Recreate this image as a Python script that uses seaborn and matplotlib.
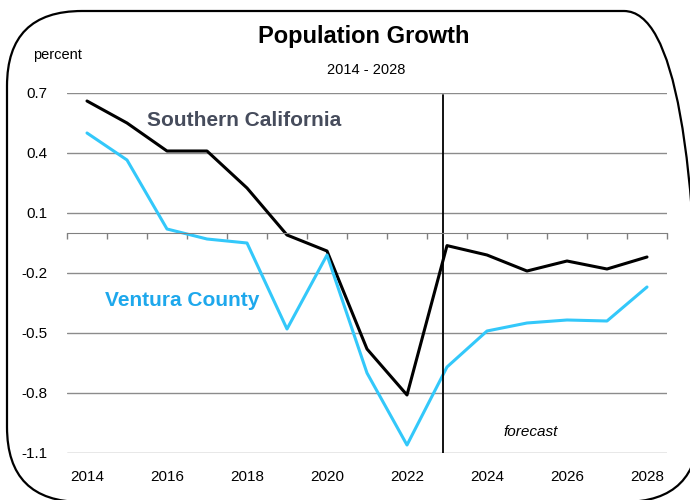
import numpy as np
import pandas as pd
import matplotlib
matplotlib.use("Agg")
import matplotlib.pyplot as plt
import seaborn as sns
from matplotlib.patches import FancyBboxPatch

# Data (percent growth)
years = list(range(2014, 2029))
socal = [0.66, 0.55, 0.41, 0.41, 0.225, -0.01, -0.09, -0.58, -0.81,
         -0.063, -0.11, -0.19, -0.14, -0.18, -0.12]
ventura = [0.50, 0.365, 0.02, -0.03, -0.05, -0.48, -0.11, -0.70, -1.06,
           -0.67, -0.49, -0.45, -0.435, -0.44, -0.27]
ytick_vals = [0.7, 0.4, 0.1, -0.2, -0.5, -0.8, -1.1]
xtick_years = list(range(2014, 2029, 2))
forecast_start = 2022.9

df = pd.DataFrame({'Year': years * 2,
                   'Growth': socal + ventura,
                   'Region': ['Southern California'] * len(years) + ['Ventura County'] * len(years)})

sns.set_style("white")
plt.rcParams['font.family'] = ['Liberation Sans', 'DejaVu Sans']
plt.rcParams['text.color'] = 'black'
plt.rcParams['xtick.color'] = 'black'
plt.rcParams['ytick.color'] = 'black'

fig = plt.figure(figsize=(6.9, 5.0), dpi=100)
ax = fig.add_axes([67 / 690, 1 - 453 / 500, 600 / 690, 360 / 500])

palette = {'Southern California': '#000000', 'Ventura County': '#33C8FA'}
sns.lineplot(data=df, x='Year', y='Growth', hue='Region', palette=palette,
             linewidth=2.2, legend=False, ax=ax)

ax.set_xlim(2013.5, 2028.5)
ax.set_ylim(-1.1, 0.7)
ax.set_yticks(ytick_vals)
ax.set_yticklabels([f'{v:.1f}' for v in ytick_vals], fontsize=11)
ax.yaxis.grid(True, color='#8c8c8c', linewidth=1)
ax.set_axisbelow(True)
ax.tick_params(axis='y', length=0, pad=14)
ax.set_xlabel('')
ax.set_ylabel('')

# zero line acts as the category axis, with marks between years
for side in ['left', 'right', 'top']:
    ax.spines[side].set_visible(False)
ax.spines['bottom'].set_position(('data', 0))
ax.spines['bottom'].set_color('#808080')
ax.set_xticks(np.arange(2013.5, 2029, 1))
ax.tick_params(axis='x', bottom=True, direction='out', length=4, width=1,
               color='#808080', labelbottom=False)

sec = ax.secondary_xaxis(0)
sec.set_xticks(xtick_years)
sec.set_xticklabels([str(y) for y in xtick_years], fontsize=11)
sec.tick_params(length=0, pad=12)
sec.spines['bottom'].set_visible(False)

ax.axvline(forecast_start, color='black', linewidth=1.3, ymax=0.995)

ax.text(2015.5, 0.56, 'Southern California', fontsize=15, fontweight='bold',
        color='#464c5c', va='center', ha='left')
ax.text(2014.45, -0.335, 'Ventura County', fontsize=15, fontweight='bold',
        color='#1ea8ec', va='center', ha='left')
ax.text(2025.1, -0.995, 'forecast', fontsize=11, style='italic', ha='center', va='center')

fig.text(364 / 690, 1 - 37 / 500, 'Population Growth', fontsize=17, fontweight='bold',
         ha='center', va='center')
fig.text(366 / 690, 1 - 70 / 500, '2014 - 2028', fontsize=10.5, ha='center', va='center')
fig.text(57 / 690, 1 - 55 / 500, 'percent', fontsize=10.5, ha='center', va='center')

# rounded frame around the whole chart
frame = FancyBboxPatch((0.07, -0.02), 6.92, 4.91,
                       boxstyle='round,pad=0,rounding_size=0.75',
                       transform=fig.dpi_scale_trans, fill=False,
                       edgecolor='black', linewidth=1.6, clip_on=False)
fig.patches.append(frame)

plt.savefig('out.png', dpi=100)
plt.close()
